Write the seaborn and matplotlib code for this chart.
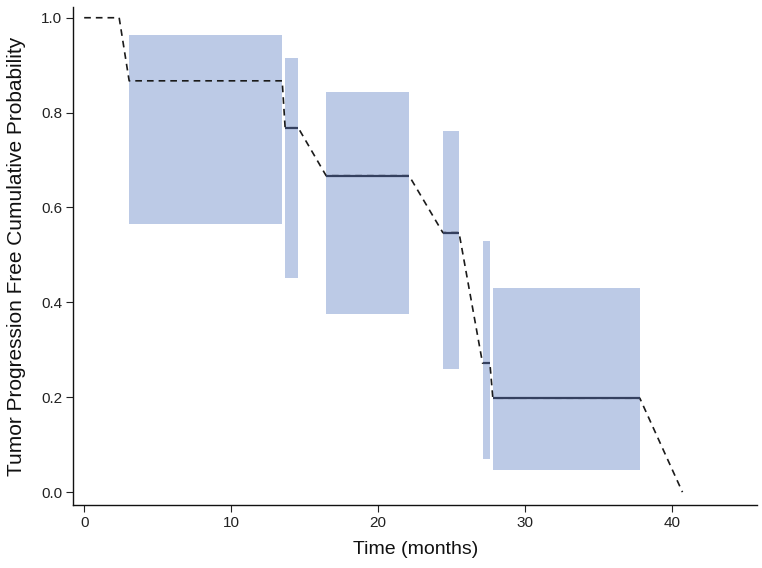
import numpy as np
import pandas as pd
import matplotlib
matplotlib.use("Agg")
import matplotlib.pyplot as plt
import seaborn as sns

# Kaplan-Meier style step data
seg_start = [0.0, 3.06, 13.67, 16.46, 24.4, 27.1, 27.8]
seg_end = [2.38, 13.47, 14.56, 22.1, 25.5, 27.6, 37.8]
surv = [1.0, 0.867, 0.768, 0.667, 0.547, 0.272, 0.198]
ci_low = [np.nan, 0.565, 0.451, 0.376, 0.260, 0.070, 0.046]
ci_high = [np.nan, 0.964, 0.916, 0.844, 0.762, 0.530, 0.430]
last_time = 40.7
last_surv = 0.0

x_ticks = [0, 10, 20, 30, 40]
y_ticks = [0.0, 0.2, 0.4, 0.6, 0.8, 1.0]

sns.set_style("ticks")
plt.rcParams['font.family'] = ['Liberation Sans', 'DejaVu Sans']

fig = plt.figure(figsize=(7.62, 5.68), dpi=100)
ax = fig.add_axes([0.096, 0.111, 0.898, 0.877])

# confidence boxes
for s, e, lo, hi in zip(seg_start, seg_end, ci_low, ci_high):
    if np.isnan(lo):
        continue
    ax.bar(s, hi - lo, width=e - s, bottom=lo, align="edge",
           color="#bccae6", edgecolor="none", zorder=1)

# dashed connecting line
xs, ys = [], []
for s, e, v in zip(seg_start, seg_end, surv):
    xs += [s, e]
    ys += [v, v]
xs.append(last_time)
ys.append(last_surv)
df = pd.DataFrame({"time": xs, "surv": ys})
sns.lineplot(data=df, x="time", y="surv", sort=False, ax=ax, color="#1a1a1a",
             lw=1.2, dashes=False, zorder=3)
ax.lines[-1].set_dashes([4, 3])

# plateau solid lines (on top)
for i, (s, e, v) in enumerate(zip(seg_start, seg_end, surv)):
    if i >= 2:
        ax.plot([s, e], [v, v], color="#34405f", lw=1.6, solid_capstyle="butt", zorder=5)

ax.set_xlim(-0.75, 45.8)
ax.set_ylim(-0.027, 1.023)
ax.set_xticks(x_ticks)
ax.set_yticks(y_ticks)
ax.set_yticklabels([f"{v:.1f}" for v in y_ticks])
ax.tick_params(labelsize=11, length=5, width=0.8, colors="#222222", pad=3)
ax.set_xlabel("Time (months)", fontsize=14, color="#111111", labelpad=8)
ax.set_ylabel("Tumor Progression Free Cumulative Probability", fontsize=15,
              color="#111111", labelpad=11)
for sp in ["top", "right"]:
    ax.spines[sp].set_visible(False)
for sp in ["left", "bottom"]:
    ax.spines[sp].set_linewidth(1.0)
    ax.spines[sp].set_color("#111111")

fig.savefig("out.png", dpi=100)
